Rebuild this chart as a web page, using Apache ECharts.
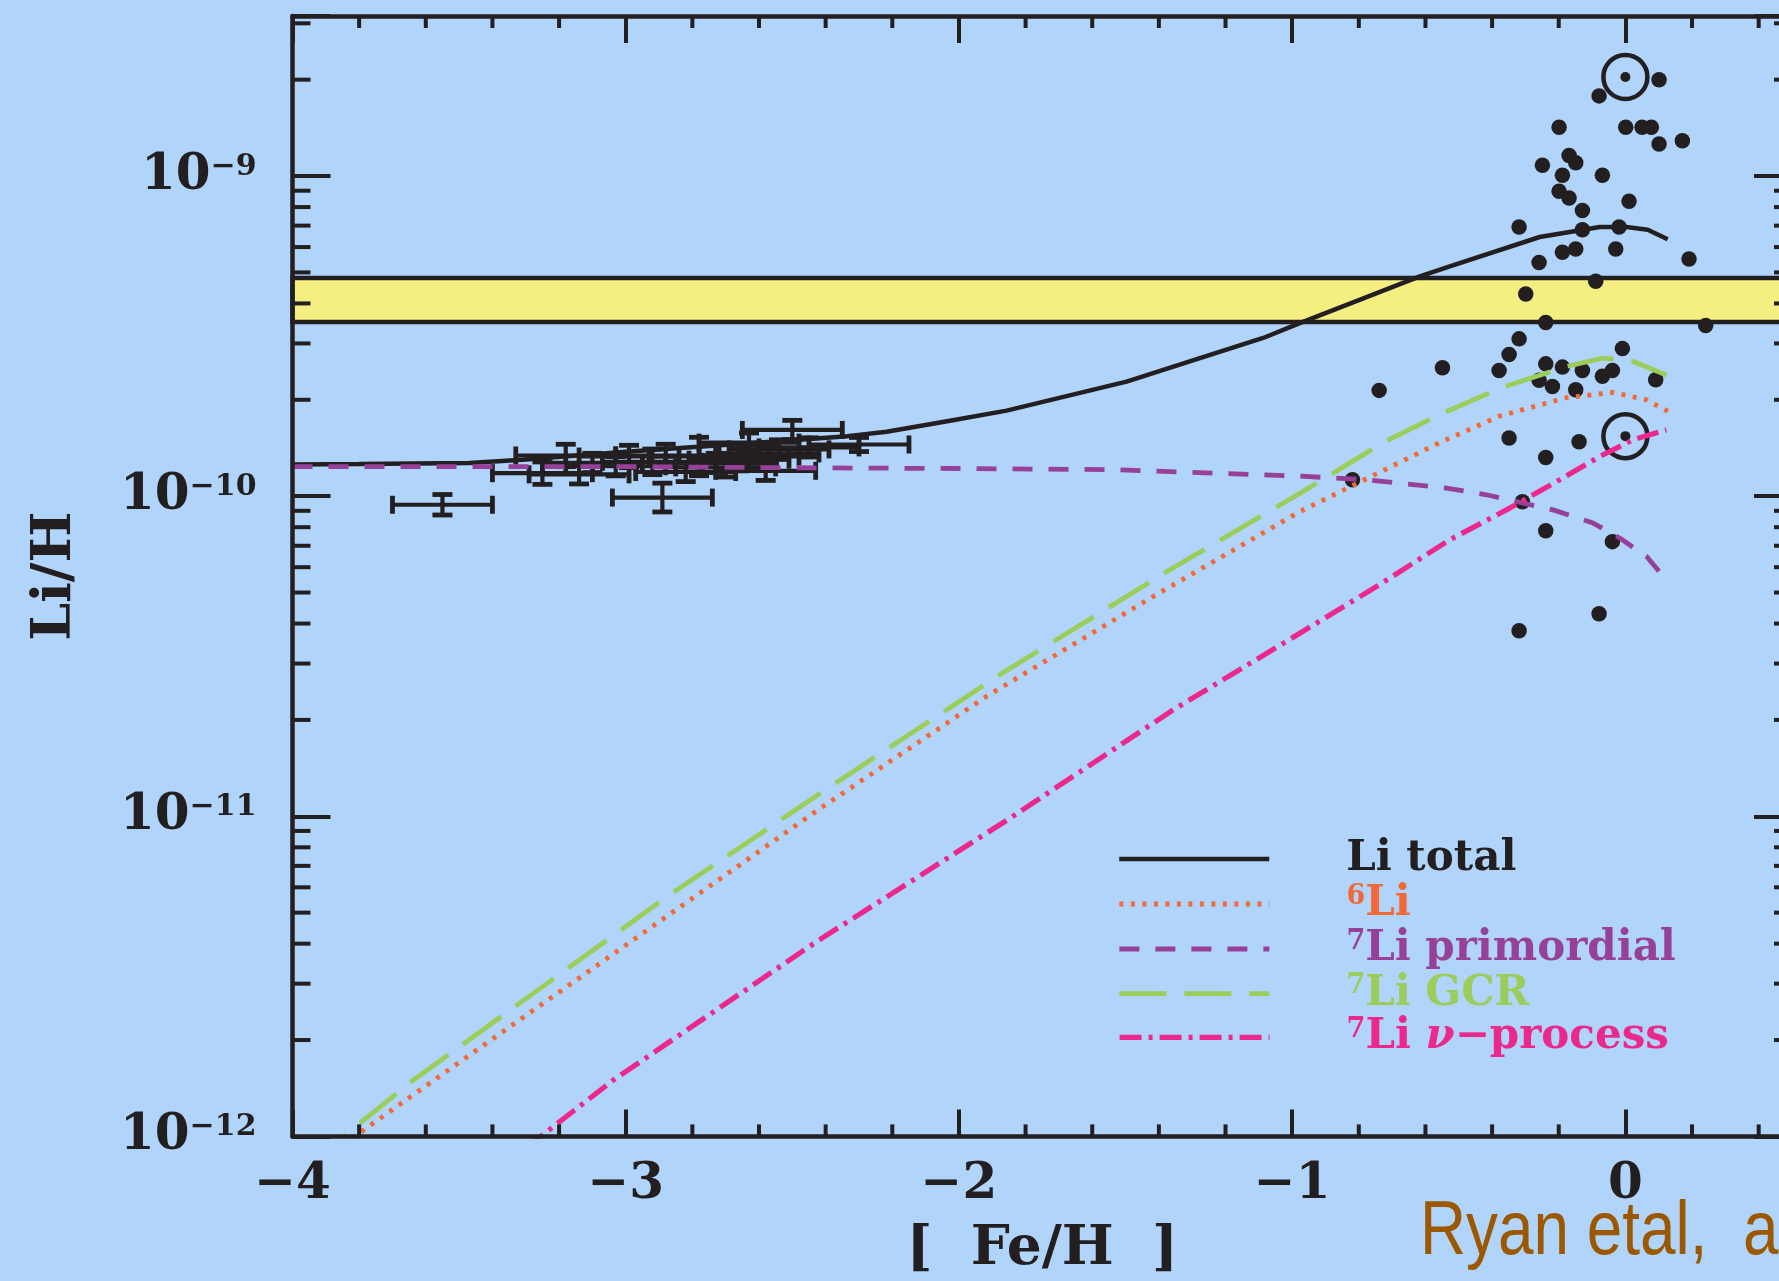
<!DOCTYPE html>
<html>
<head>
<meta charset="utf-8">
<title>Li/H vs [Fe/H]</title>
<script src="https://cdn.jsdelivr.net/npm/echarts@6/dist/echarts.min.js"></script>
<style>
  html, body { margin: 0; padding: 0; background: #b0d4fa; }
  #chart { width: 1779px; height: 1281px; }
</style>
</head>
<body>
<div id="chart"></div>
<script>
// ---- axis ranges and tick values ----
const xMin = -4, xMax = 0.5;
const yMin = 1e-12, yMax = 3.162e-9;
const xMinorTicks = [-3.8, -3.6, -3.4, -3.2, -2.8, -2.6, -2.4, -2.2, -1.8, -1.6, -1.4, -1.2,
                     -0.8, -0.6, -0.4, -0.2, 0.2, 0.4];
const yMinorTicks = [2e-12, 3e-12, 4e-12, 5e-12, 6e-12, 7e-12, 8e-12, 9e-12,
                     2e-11, 3e-11, 4e-11, 5e-11, 6e-11, 7e-11, 8e-11, 9e-11,
                     2e-10, 3e-10, 4e-10, 5e-10, 6e-10, 7e-10, 8e-10, 9e-10,
                     2e-9, 3e-9];

// ---- primordial (BBN) band ----
const bandLo = 3.5e-10, bandHi = 4.8e-10;

// ---- model curves: [Fe/H] and Li/H ----
const totalFeH = [-4.0, -3.8, -3.47, -3.31, -3.0, -2.564, -2.335, -2.217, -2.027, -1.857, -1.497,
                  -1.087, -0.977, -0.617, -0.527, -0.257, -0.127, -0.077, 0.003, 0.067, 0.127];
const totalLi  = [1.256e-10, 1.26e-10, 1.27e-10, 1.30e-10, 1.377e-10, 1.48e-10, 1.54e-10, 1.59e-10,
                  1.72e-10, 1.85e-10, 2.28e-10, 3.12e-10, 3.47e-10, 4.86e-10, 5.22e-10, 6.45e-10,
                  6.80e-10, 6.93e-10, 6.93e-10, 6.80e-10, 6.35e-10];

const li6FeH = [-3.85, -3.567, -2.427, -1.917, -1.417, -0.977, -0.557, -0.377, -0.177, -0.037, 0.063, 0.128];
const li6Li  = [9.4e-13, 1.52e-12, 1.04e-11, 2.37e-11, 4.86e-11, 8.95e-11, 1.47e-10, 1.78e-10,
                2.03e-10, 2.11e-10, 2.00e-10, 1.84e-10];

const primFeH = [-4.0, -3.0, -2.387, -2.0, -1.537, -1.237, -0.977, -0.777, -0.537, -0.417, -0.217,
                 -0.097, -0.017, 0.063, 0.128];
const primLi  = [1.236e-10, 1.236e-10, 1.225e-10, 1.22e-10, 1.21e-10, 1.18e-10, 1.155e-10, 1.125e-10,
                 1.06e-10, 1.01e-10, 9.06e-11, 8.24e-11, 7.4e-11, 6.49e-11, 5.4e-11];

const gcrFeH = [-3.95, -3.637, -2.877, -2.427, -1.877, -1.367, -0.977, -0.727, -0.547, -0.367,
                -0.177, -0.068, 0.022, 0.123];
const gcrLi  = [8.2e-13, 1.50e-12, 5.6e-12, 1.16e-11, 2.77e-11, 5.89e-11, 1.02e-10, 1.47e-10,
                1.82e-10, 2.19e-10, 2.54e-10, 2.70e-10, 2.64e-10, 2.39e-10];

const nuFeH = [-3.30, -3.037, -2.427, -1.847, -1.357, -0.977, -0.747, -0.527, -0.357, -0.197,
               -0.077, 0.023, 0.123];
const nuLi  = [9.2e-13, 1.50e-12, 4.06e-12, 9.86e-12, 2.15e-11, 3.73e-11, 5.22e-11, 7.31e-11,
               9.06e-11, 1.125e-10, 1.33e-10, 1.50e-10, 1.61e-10];

// ---- halo stars with error bars ([Fe/H], Li/H, [Fe/H] error, Li error in dex) ----
const starFeH    = [-3.55, -2.89, -3.25, -3.18, -3.14, -3.03, -2.99, -2.88, -2.82, -2.78,
                    -2.73, -2.70, -2.63, -2.63, -2.58, -2.57, -2.54, -2.50, -2.30,
                    -2.45, -2.92, -3.10, -2.66];
const starLi     = [9.4e-11, 9.9e-11, 1.18e-10, 1.34e-10, 1.17e-10, 1.24e-10, 1.33e-10, 1.34e-10,
                    1.19e-10, 1.33e-10, 1.27e-10, 1.23e-10, 1.33e-10, 1.47e-10, 1.20e-10, 1.36e-10,
                    1.40e-10, 1.61e-10, 1.45e-10,
                    1.42e-10, 1.28e-10, 1.27e-10, 1.30e-10];
const starFeHErr = [0.15, 0.15, 0.15, 0.15, 0.15, 0.15, 0.15, 0.15, 0.15, 0.15,
                    0.15, 0.15, 0.15, 0.15, 0.15, 0.15, 0.15, 0.15, 0.15,
                    0.15, 0.15, 0.15, 0.15];
const starLiErr  = [0.032, 0.045, 0.035, 0.035, 0.03, 0.03, 0.035, 0.035, 0.03, 0.06,
                    0.03, 0.03, 0.035, 0.03, 0.03, 0.03, 0.03, 0.03, 0.022,
                    0.03, 0.04, 0.03, 0.035];

// ---- disk stars (filled dots) ----
const diskFeH = [0.101, -0.079, -0.199, 0.001, 0.05, 0.078, 0.101, 0.171, -0.169, -0.149,
                 -0.249, -0.189, -0.069, -0.199, -0.169, 0.011, -0.129, -0.319, -0.129, -0.019,
                 -0.189, -0.149, -0.029, -0.259, 0.191, -0.089, -0.299, -0.239, 0.241, -0.319,
                 -0.349, -0.009, -0.549, -0.379, -0.239, -0.189, -0.129, -0.039, -0.069, -0.259,
                 0.091, -0.739, -0.219, -0.149, -0.819, -0.349, -0.139, -0.239, -0.309, -0.239,
                 -0.039, -0.079, -0.319];
const diskLi  = [2.0e-9, 1.78e-9, 1.42e-9, 1.42e-9, 1.42e-9, 1.42e-9, 1.26e-9, 1.29e-9, 1.16e-9, 1.10e-9,
                 1.08e-9, 1.005e-9, 1.005e-9, 8.96e-10, 8.54e-10, 8.34e-10, 7.8e-10, 6.93e-10, 6.8e-10, 6.93e-10,
                 5.78e-10, 5.92e-10, 5.92e-10, 5.37e-10, 5.51e-10, 4.69e-10, 4.28e-10, 3.49e-10, 3.41e-10, 3.10e-10,
                 2.77e-10, 2.89e-10, 2.52e-10, 2.47e-10, 2.59e-10, 2.53e-10, 2.47e-10, 2.47e-10, 2.37e-10, 2.30e-10,
                 2.31e-10, 2.14e-10, 2.20e-10, 2.15e-10, 1.125e-10, 1.52e-10, 1.48e-10, 1.32e-10, 9.6e-11, 7.8e-11,
                 7.21e-11, 4.29e-11, 3.80e-11];

// ---- solar values (meteoritic and photospheric) ----
const sunFeH = [0.0, 0.0];
const sunLi  = [2.04e-9, 1.54e-10];

// ---- styling ----
const INK = '#231f20';
const BG = '#b0d4fa';
const BAND_FILL = '#f5ef82';
const C_6LI = '#f26937', C_PRIM = '#96409a', C_GCR = '#9bcd5a', C_NU = '#ec288c';
const SERIF = '"DejaVu Serif", "Liberation Serif", serif';

// line styles shared by the curves and their legend samples
const STYLE = {
  'Li total':           { color: INK,    width: 4.5, type: 'solid' },
  '6Li':                { color: C_6LI,  width: 4.8, type: [4, 7.5] },
  '7Li primordial':     { color: C_PRIM, width: 4.8, type: [20, 16] },
  '7Li GCR':            { color: C_GCR,  width: 4.8, type: [47, 18] },
  '7Li \u03bd-process': { color: C_NU,   width: 5.2, type: [22, 7, 4, 7] }
};

function zip(xs, ys) { return xs.map((x, i) => [x, ys[i]]); }

function xLabel(v) {
  if (!Number.isInteger(v)) return '';
  return v < 0 ? '\u2212' + (-v) : String(v);
}
function yLabel(v) {
  const e = Math.log10(v), r = Math.round(e);
  if (Math.abs(e - r) > 1e-6) return '';
  return '{b|10}{s|\u2212' + Math.abs(r) + '}';
}

const axisLineStyle = { color: INK, width: 4.5 };
const tickStyle = { color: INK, width: 4 };

function xAxisCfg(pos, labels) {
  return {
    type: 'value', position: pos, min: xMin, max: xMax, interval: 1, z: 5,
    axisLine: { show: true, onZero: false, lineStyle: axisLineStyle },
    axisTick: { show: true, inside: true, length: 27, lineStyle: tickStyle },
    splitLine: { show: false },
    axisLabel: labels ? {
      show: true, margin: 24, formatter: xLabel, color: INK,
      fontFamily: SERIF, fontWeight: 'bold', fontSize: 50
    } : { show: false },
    name: labels ? '[  Fe/H  ]' : '', nameLocation: 'middle', nameGap: 86,
    nameTextStyle: { color: INK, fontFamily: SERIF, fontWeight: 'bold', fontSize: 55 }
  };
}
function yAxisCfg(pos, labels) {
  return {
    type: 'log', logBase: 10, position: pos, min: yMin, max: yMax, z: 5,
    axisLine: { show: true, onZero: false, lineStyle: axisLineStyle },
    axisTick: { show: true, inside: true, length: 38, lineStyle: tickStyle },
    splitLine: { show: false }, minorTick: { show: false },
    axisLabel: labels ? {
      show: true, margin: 36, formatter: yLabel,
      rich: {
        b: { color: INK, fontFamily: SERIF, fontWeight: 'bold', fontSize: 50, lineHeight: 48 },
        s: { color: INK, fontFamily: SERIF, fontWeight: 'bold', fontSize: 30, lineHeight: 30, verticalAlign: 'top' }
      }
    } : { show: false },
    name: labels ? 'Li/H' : '', nameLocation: 'middle', nameGap: 210,
    nameTextStyle: { color: INK, fontFamily: SERIF, fontWeight: 'bold', fontSize: 54 }
  };
}

// short minor ticks on all four sides
const minorYSeries = {
  type: 'custom', silent: true, z: 6, clip: false,
  data: yMinorTicks.map(v => [xMin, v]), encode: { x: 0, y: 1 },
  renderItem(params, api) {
    const p = api.coord([api.value(0), api.value(1)]);
    const cs = params.coordSys;
    const st = { stroke: INK, lineWidth: 4 };
    return { type: 'group', children: [
      { type: 'line', shape: { x1: cs.x, y1: p[1], x2: cs.x + 18, y2: p[1] }, style: st },
      { type: 'line', shape: { x1: cs.x + cs.width - 18, y1: p[1], x2: cs.x + cs.width, y2: p[1] }, style: st }
    ]};
  }
};
const minorXSeries = {
  type: 'custom', silent: true, z: 6, clip: false,
  data: xMinorTicks.map(v => [v, yMin]), encode: { x: 0, y: 1 },
  renderItem(params, api) {
    const p = api.coord([api.value(0), api.value(1)]);
    const cs = params.coordSys;
    const st = { stroke: INK, lineWidth: 4 };
    return { type: 'group', children: [
      { type: 'line', shape: { x1: p[0], y1: cs.y + cs.height, x2: p[0], y2: cs.y + cs.height - 12 }, style: st },
      { type: 'line', shape: { x1: p[0], y1: cs.y, x2: p[0], y2: cs.y + 12 }, style: st }
    ]};
  }
};

// error bars for the halo stars
const errorBarSeries = {
  type: 'custom', silent: true, z: 2,
  data: starFeH.map((x, i) => [x, starLi[i], starFeHErr[i], starLiErr[i]]),
  dimensions: ['feh', 'li', 'fehErr', 'liErr'],
  encode: { x: 0, y: 1 },
  renderItem(params, api) {
    const x = api.value(0), y = api.value(1), xe = api.value(2), ye = api.value(3);
    const c = api.coord([x, y]);
    const l = api.coord([x - xe, y]), r = api.coord([x + xe, y]);
    const t = api.coord([x, y * Math.pow(10, ye)]), b = api.coord([x, y / Math.pow(10, ye)]);
    const st = { stroke: INK, lineWidth: 4.2 };
    const capSt = { stroke: INK, lineWidth: 4.8 };
    const capV = 9, capH = 10;
    return { type: 'group', children: [
      { type: 'line', shape: { x1: l[0], y1: c[1], x2: r[0], y2: c[1] }, style: st },
      { type: 'line', shape: { x1: c[0], y1: t[1], x2: c[0], y2: b[1] }, style: st },
      { type: 'line', shape: { x1: l[0], y1: c[1] - capV, x2: l[0], y2: c[1] + capV }, style: capSt },
      { type: 'line', shape: { x1: r[0], y1: c[1] - capV, x2: r[0], y2: c[1] + capV }, style: capSt },
      { type: 'line', shape: { x1: c[0] - capH, y1: t[1], x2: c[0] + capH, y2: t[1] }, style: capSt },
      { type: 'line', shape: { x1: c[0] - capH, y1: b[1], x2: c[0] + capH, y2: b[1] }, style: capSt }
    ]};
  }
};

function curve(name, xs, ys) {
  const s = STYLE[name];
  return {
    name, type: 'line', data: zip(xs, ys), z: 3, showSymbol: false, symbol: 'none',
    smooth: false, silent: true, clip: true,
    lineStyle: { color: s.color, width: s.width, type: s.type }, itemStyle: { color: s.color }
  };
}

const legendRich = {
  g:  { width: 72 },
  k:  { color: INK, fontFamily: SERIF, fontWeight: 'bold', fontSize: 42, lineHeight: 42 },
  os: { color: C_6LI, fontFamily: SERIF, fontWeight: 'bold', fontSize: 27, lineHeight: 27, verticalAlign: 'top' },
  o:  { color: C_6LI, fontFamily: SERIF, fontWeight: 'bold', fontSize: 42, lineHeight: 42 },
  ps: { color: C_PRIM, fontFamily: SERIF, fontWeight: 'bold', fontSize: 27, lineHeight: 27, verticalAlign: 'top' },
  p:  { color: C_PRIM, fontFamily: SERIF, fontWeight: 'bold', fontSize: 42, lineHeight: 42 },
  gs: { color: C_GCR, fontFamily: SERIF, fontWeight: 'bold', fontSize: 27, lineHeight: 27, verticalAlign: 'top' },
  gr: { color: C_GCR, fontFamily: SERIF, fontWeight: 'bold', fontSize: 42, lineHeight: 42 },
  ms: { color: C_NU, fontFamily: SERIF, fontWeight: 'bold', fontSize: 27, lineHeight: 27, verticalAlign: 'top' },
  m:  { color: C_NU, fontFamily: SERIF, fontWeight: 'bold', fontSize: 42, lineHeight: 42 },
  mi: { color: C_NU, fontFamily: SERIF, fontWeight: 'bold', fontStyle: 'italic', fontSize: 42, lineHeight: 42 }
};
const legendText = {
  'Li total':           '{g| }{k|Li total}',
  '6Li':                '{g| }{os|6}{o|Li}',
  '7Li primordial':     '{g| }{ps|7}{p|Li primordial}',
  '7Li GCR':            '{g| }{gs|7}{gr|Li GCR}',
  '7Li \u03bd-process': '{g| }{ms|7}{m|Li }{mi|\u03bd}{m|\u2212process}'
};
const legendRows = [['Li total', 856], ['6Li', 901], ['7Li primordial', 946],
                    ['7Li GCR', 990.7], ['7Li \u03bd-process', 1034.3]];

const option = {
  animation: false,
  backgroundColor: BG,
  grid: { left: 292.5, top: 16, width: 1499.5, height: 1120.4, outerBoundsMode: 'none' },
  xAxis: [xAxisCfg('bottom', true), xAxisCfg('top', false)],
  yAxis: [yAxisCfg('left', true), yAxisCfg('right', false)],
  legend: legendRows.map(([name, rowY]) => ({
    data: [name], orient: 'vertical', left: 1117, top: rowY - 18, padding: 0,
    itemWidth: 150, itemHeight: 14, selectedMode: false,
    itemStyle: { opacity: 0 },
    lineStyle: { color: STYLE[name].color, width: STYLE[name].width, type: STYLE[name].type, opacity: 1 },
    formatter: n => legendText[n],
    textStyle: { rich: legendRich }
  })),
  graphic: [{
    type: 'text', x: 1420, y: 1233, scaleX: 0.84, silent: true,
    style: {
      text: 'Ryan etal,  astro-ph/9905211', fill: '#9b5800',
      fontFamily: '"Liberation Sans", Arial, sans-serif',
      fontSize: 76, verticalAlign: 'middle', align: 'left'
    }
  }],
  series: [
    {
      type: 'line', data: [], silent: true, z: 1,
      markArea: {
        silent: true,
        itemStyle: { color: BAND_FILL, borderColor: INK, borderWidth: 4.5 },
        data: [[{ yAxis: bandLo }, { yAxis: bandHi }]]
      }
    },
    errorBarSeries,
    {
      type: 'scatter', data: zip(diskFeH, diskLi), symbol: 'circle', symbolSize: 15.5, z: 2,
      silent: true, itemStyle: { color: INK, opacity: 1 }
    },
    {
      type: 'scatter', data: zip(sunFeH, sunLi), symbol: 'circle', symbolSize: 44, z: 2, silent: true,
      itemStyle: { color: 'rgba(0,0,0,0)', borderColor: INK, borderWidth: 4.5, opacity: 1 }
    },
    {
      type: 'scatter', data: zip(sunFeH, sunLi), symbol: 'circle', symbolSize: 10, z: 2, silent: true,
      itemStyle: { color: INK, opacity: 1 }
    },
    curve('Li total', totalFeH, totalLi),
    curve('6Li', li6FeH, li6Li),
    curve('7Li primordial', primFeH, primLi),
    curve('7Li GCR', gcrFeH, gcrLi),
    curve('7Li \u03bd-process', nuFeH, nuLi),
    minorYSeries,
    minorXSeries
  ]
};

const chart = echarts.init(document.getElementById('chart'), null, { renderer: 'canvas' });
chart.setOption(option);
</script>
</body>
</html>
